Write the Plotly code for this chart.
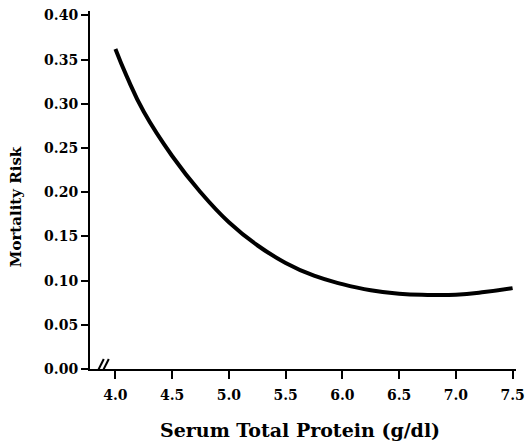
import plotly.graph_objects as go

protein = [4.0, 4.1, 4.25, 4.5, 4.75, 5.0, 5.25, 5.5, 5.75, 6.0, 6.25, 6.5, 6.75, 7.0, 7.25, 7.5]
risk = [0.362, 0.331, 0.291, 0.241, 0.200, 0.166, 0.140, 0.120, 0.1055, 0.096, 0.089, 0.085, 0.0838, 0.084, 0.087, 0.0915]

x_ticks = [4.0, 4.5, 5.0, 5.5, 6.0, 6.5, 7.0, 7.5]
x_tick_labels = ["4.0", "4.5", "5.0", "5.5", "6.0", "6.5", "7.0", "7.5"]
y_ticks = [0.00, 0.05, 0.10, 0.15, 0.20, 0.25, 0.30, 0.35, 0.40]
y_tick_labels = ["0.00", "0.05", "0.10", "0.15", "0.20", "0.25", "0.30", "0.35", "0.40"]

FONT = "DejaVu Serif"

fig = go.Figure()
fig.add_trace(go.Scatter(
    x=protein, y=risk, mode="lines",
    line=dict(color="black", width=4, shape="spline", smoothing=1.3),
    showlegend=False, hoverinfo="skip",
))

fig.update_layout(
    width=532, height=443,
    margin=dict(l=90, r=7, t=8, b=74),
    paper_bgcolor="white", plot_bgcolor="white",
    font=dict(family=FONT, color="black"),
    xaxis=dict(
        range=[3.776, 7.53], tickmode="array", tickvals=x_ticks, ticktext=x_tick_labels,
        showgrid=False, zeroline=False, showline=True, linecolor="black", linewidth=2,
        ticks="outside", ticklen=8, tickwidth=2, tickcolor="black",
        ticklabeloverflow="allow", ticklabelstandoff=4,
        tickfont=dict(family=FONT, size=14, weight="bold"),
    ),
    yaxis=dict(
        range=[0, 0.405], tickmode="array", tickvals=y_ticks, ticktext=y_tick_labels,
        showgrid=False, zeroline=False, showline=True, linecolor="black", linewidth=2,
        ticks="outside", ticklen=7, tickwidth=2, tickcolor="black",
        tickfont=dict(family=FONT, size=14, weight="bold"),
    ),
    annotations=[
        dict(text="Serum Total Protein (g/dl)", xref="paper", yref="paper",
             x=0.492, y=-0.17, xanchor="center", yanchor="middle", showarrow=False,
             font=dict(family=FONT, size=19, weight="bold")),
        dict(text="Mortality Risk", xref="paper", yref="paper",
             x=-0.172, y=0.454, xanchor="center", yanchor="middle", showarrow=False,
             textangle=-90, font=dict(family=FONT, size=15, weight="bold")),
    ],
    shapes=[
        dict(type="line", xref="x", yref="y", xsizemode="pixel", ysizemode="pixel",
             xanchor=3.871, yanchor=0, x0=-7, y0=-10, x1=3, y1=10,
             line=dict(color="black", width=2)),
        dict(type="line", xref="x", yref="y", xsizemode="pixel", ysizemode="pixel",
             xanchor=3.871, yanchor=0, x0=-2, y0=-10, x1=8, y1=10,
             line=dict(color="black", width=2)),
    ],
)

fig.write_html("out.html", config={"displayModeBar": False},
               post_script="document.body.style.margin='0';document.body.style.overflow='hidden';")
